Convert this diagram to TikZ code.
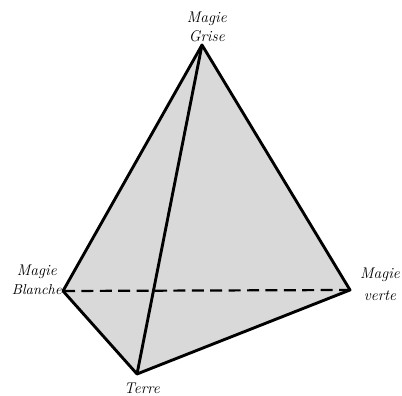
\documentclass[tikz,border=0pt]{standalone}
\usepackage{tikz}

\begin{document}
\begin{tikzpicture}[
  edge/.style={draw=black,line width=0.72mm,line join=round},
  hidden/.style={draw=black,line width=0.55mm,dash pattern=on 3mm off 1.6mm},
  lab/.style={font=\fontsize{11}{13}\selectfont\itshape,align=center,inner sep=0pt,text=black}]
  \useasboundingbox (0,0) rectangle (10.05,9.875);
  \coordinate (grise) at (5.05,8.75);
  \coordinate (blanche) at (1.575,2.60);
  \coordinate (terre) at (3.425,0.525);
  \coordinate (verte) at (8.75,2.625);
  \fill[black!15] (grise) -- (blanche) -- (terre) -- (verte) -- cycle;
  \draw[hidden] (blanche) -- (verte);
  \draw[edge] (grise) -- (blanche) -- (terre) -- (verte) -- cycle;
  \draw[edge] (grise) -- (terre);
  \node[lab] (lgrise) at (5.17,9.2) {Magie\\Grise};
  \node[lab] (lblanche) at (0.92,2.88) {Magie\\\fontsize{10.2}{13}\selectfont Blanche};
  \node[lab] (lterre) at (3.55,0.16) {Terre};
  \node[lab] (lverte) at (9.5,2.76) {Magie\\[2.5pt]verte};
\end{tikzpicture}
\end{document}
